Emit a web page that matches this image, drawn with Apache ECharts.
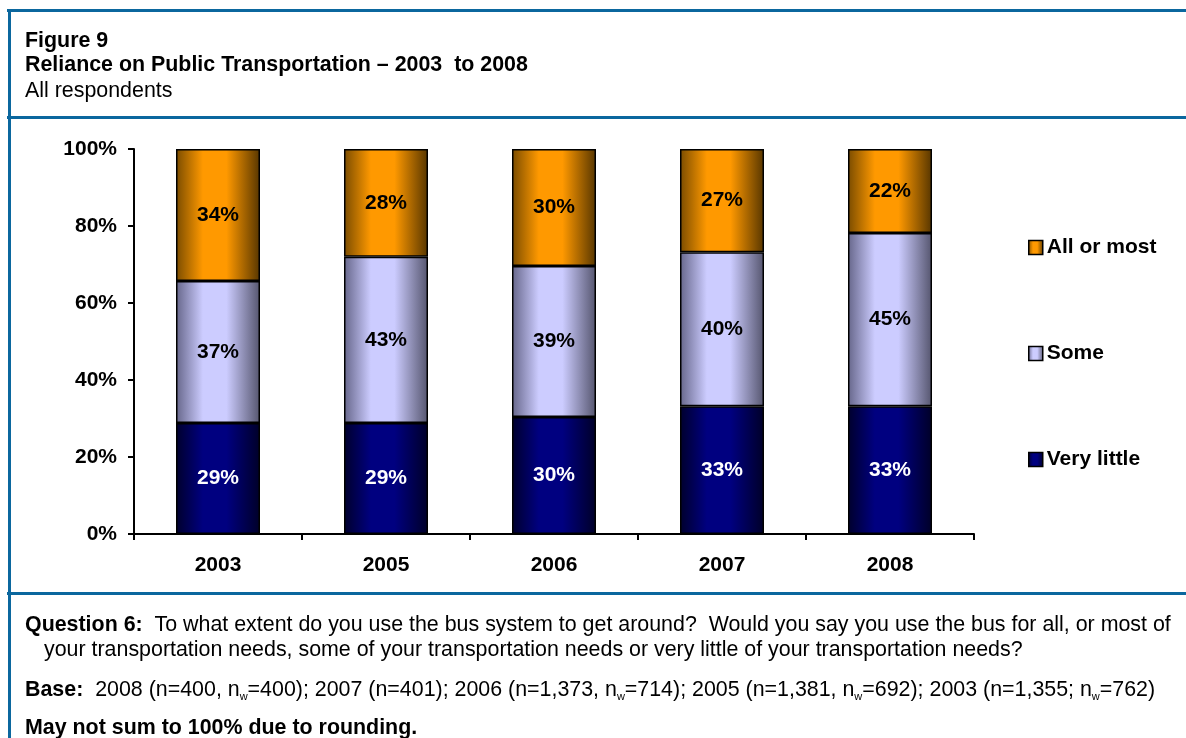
<!DOCTYPE html>
<html>
<head>
<meta charset="utf-8">
<script src="https://cdn.jsdelivr.net/npm/echarts@6/dist/echarts.min.js"></script>
<style>
  html, body { margin: 0; padding: 0; background: #fff; }
  #chart { width: 1186px; height: 738px; }
</style>
</head>
<body>
<div id="chart"></div>
<script>
var years = ["2003", "2005", "2006", "2007", "2008"];
var veryLittle = [28.8, 28.8, 30.4, 33.2, 33.2];
var some = [36.9, 43.2, 39.2, 40.0, 45.0];
var allOrMost = [34.3, 28.0, 30.4, 26.8, 21.8];
var yTicks = [0, 20, 40, 60, 80, 100];

var FONT = "Liberation Sans";
var FS = 21;
var TFS = 21.4; // header / footer text
var BLUE = "#0b679e";

function grad(edgeL, mid, edgeR) {
  return {
    type: "linear", x: 0, y: 0, x2: 1, y2: 0,
    colorStops: [
      { offset: 0, color: edgeL },
      { offset: 0.32, color: mid },
      { offset: 0.6, color: mid },
      { offset: 1, color: edgeR }
    ]
  };
}

function barSeries(name, data, fill, labelColor) {
  return {
    name: name,
    type: "bar",
    stack: "total",
    barWidth: "50%",
    data: data,
    itemStyle: { color: fill, borderColor: "#000", borderWidth: 1.5 },
    label: {
      show: true,
      position: "inside",
      color: labelColor,
      fontFamily: FONT,
      fontWeight: "bold",
      fontSize: FS,
      formatter: function (p) { return Math.round(p.value) + "%"; }
    }
  };
}

function txt(x, y, s, bold) {
  return {
    type: "text", left: x, top: y,
    style: { text: s, fontFamily: FONT, fontWeight: bold ? "bold" : "normal", fontSize: TFS, fill: "#000" }
  };
}

var myChart = echarts.init(document.getElementById("chart"));

myChart.setOption({
  animation: false,
  grid: { left: 134, right: 212, top: 149, bottom: 204 },
  legend: {
    orient: "vertical",
    left: 1023,
    top: 232,
    icon: "rect",
    itemWidth: 14,
    itemHeight: 14,
    itemGap: 85,
    data: ["All or most", "Some", "Very little"],
    textStyle: { fontFamily: FONT, fontWeight: "bold", fontSize: FS, color: "#000", padding: [0, 0, 0, -1] },
    itemStyle: { borderColor: "#000", borderWidth: 1.5 }
  },
  xAxis: {
    type: "category",
    data: years,
    axisLine: { lineStyle: { color: "#000", width: 2 } },
    axisTick: { show: true, length: 6, lineStyle: { color: "#000", width: 2 } },
    axisLabel: { margin: 21, color: "#000", fontFamily: FONT, fontWeight: "bold", fontSize: FS }
  },
  yAxis: {
    type: "value",
    min: 0,
    max: 100,
    interval: 20,
    axisLine: { show: true, lineStyle: { color: "#000", width: 2 } },
    axisTick: { show: true, length: 6, lineStyle: { color: "#000", width: 2 } },
    splitLine: { show: false },
    axisLabel: {
      margin: 17,
      color: "#000",
      fontFamily: FONT,
      fontWeight: "bold",
      fontSize: FS,
      formatter: function (v) { return yTicks.indexOf(v) >= 0 ? v + "%" : ""; }
    }
  },
  series: [
    barSeries("Very little", veryLittle, grad("#00002c", "#000080", "#000028"), "#fff"),
    barSeries("Some", some, grad("#66668a", "#ccccff", "#55556e"), "#000"),
    barSeries("All or most", allOrMost, grad("#7a4c00", "#ff9900", "#573600"), "#000")
  ],
  graphic: [
    // frame lines
    { type: "rect", shape: { x: 7, y: 9, width: 1179, height: 3 }, style: { fill: BLUE } },
    { type: "rect", shape: { x: 8, y: 9, width: 3, height: 729 }, style: { fill: BLUE } },
    { type: "rect", shape: { x: 7, y: 116, width: 1179, height: 3 }, style: { fill: BLUE } },
    { type: "rect", shape: { x: 7, y: 592, width: 1179, height: 3 }, style: { fill: BLUE } },
    // header
    txt(25, 31, "Figure 9", true),
    txt(25, 55, "Reliance on Public Transportation \u2013 2003  to 2008", true),
    txt(25, 81, "All respondents", false),
    // footer
    {
      type: "text", left: 25, top: 615,
      style: {
        text: "{b|Question 6:}  To what extent do you use the bus system to get around?  Would you say you use the bus for all, or most of",
        fontFamily: FONT, fontSize: TFS, fill: "#000",
        rich: { b: { fontFamily: FONT, fontWeight: "bold", fontSize: TFS, fill: "#000" } }
      }
    },
    txt(44, 640, "your transportation needs, some of your transportation needs or very little of your transportation needs?", false),
    {
      type: "text", left: 25, top: 680,
      style: {
        text: "{b|Base:}  2008 (n=400, n{s|w}=400); 2007 (n=401); 2006 (n=1,373, n{s|w}=714); 2005 (n=1,381, n{s|w}=692); 2003 (n=1,355; n{s|w}=762)",
        fontFamily: FONT, fontSize: TFS, fill: "#000",
        rich: {
          b: { fontFamily: FONT, fontWeight: "bold", fontSize: TFS, fill: "#000", lineHeight: 24 },
          s: { fontFamily: FONT, fontSize: 11, fill: "#000", verticalAlign: "bottom", lineHeight: 24 }
        }
      }
    },
    txt(25, 718, "May not sum to 100% due to rounding.", true)
  ]
});
</script>
</body>
</html>
